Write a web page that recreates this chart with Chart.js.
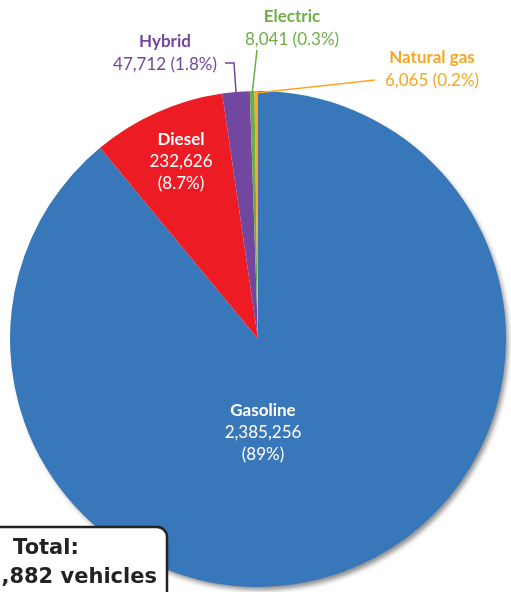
<!DOCTYPE html>
<html>
<head>
<meta charset="utf-8">
<script src="https://cdn.jsdelivr.net/npm/chart.js@4.4.1/dist/chart.umd.min.js"></script>
<style>
  html, body { margin: 0; padding: 0; background: #fff; }
  #wrap { position: relative; width: 511px; height: 592px; }
</style>
</head>
<body>
<div id="wrap"><canvas id="chart" width="511" height="592"></canvas></div>
<script>
// data
const fuelTypes = ['Gasoline', 'Diesel', 'Hybrid', 'Electric', 'Natural gas'];
const vehicleCounts = [2385256, 232626, 47712, 8041, 6065];
const shareLabels = ['89%', '8.7%', '1.8%', '0.3%', '0.2%'];
const totalLabel = ['Total:', '2,679,882 vehicles'];

const sliceColors = ['#3777BA', '#ED1C24', '#7247A0', '#6EAB45', '#FFA51F'];
const textColors = ['#ffffff', '#ffffff', '#7247A0', '#70AD47', '#F5A623'];

// label anchors, offsets in px from the pie centre
const labelLayout = [
  { dx: 5, dy: 72, inside: true },
  { dx: -77, dy: -199, inside: true },
  { dx: -93, dy: -297, leader: [[-33, -276], [-24, -276]] },
  { dx: 34, dy: -322, leader: [[-1, -289]] },
  { dx: 174, dy: -281, leader: [[117, -259]] },
];

const fmt = (n) => n.toLocaleString('en-US');

const pieShadow = {
  id: 'pieShadow',
  beforeDatasetsDraw(chart) {
    const arc = chart.getDatasetMeta(0).data[0];
    if (!arc) return;
    const { x, y, outerRadius } = arc.getProps(['x', 'y', 'outerRadius'], true);
    const ctx = chart.ctx;
    ctx.save();
    ctx.shadowColor = 'rgba(0,0,0,0.45)';
    ctx.shadowBlur = 5;
    ctx.shadowOffsetX = 3;
    ctx.shadowOffsetY = 4;
    ctx.beginPath();
    ctx.arc(x, y, outerRadius - 1, 0, Math.PI * 2);
    ctx.fillStyle = '#ffffff';
    ctx.fill();
    ctx.restore();
  }
};

const sliceLabels = {
  id: 'sliceLabels',
  afterDatasetsDraw(chart) {
    const ctx = chart.ctx;
    const arcs = chart.getDatasetMeta(0).data;
    const { x: cx, y: cy } = arcs[0].getProps(['x', 'y'], true);
    ctx.save();
    ctx.textAlign = 'center';
    ctx.textBaseline = 'middle';
    arcs.forEach((arc, i) => {
      const lay = labelLayout[i];
      const p = arc.getProps(['startAngle', 'endAngle', 'outerRadius'], true);
      const color = textColors[i];
      const lx = cx + lay.dx, ly = cy + lay.dy;

      if (lay.leader) {
        const mid = (p.startAngle + p.endAngle) / 2;
        ctx.beginPath();
        ctx.moveTo(cx + Math.cos(mid) * (p.outerRadius - 2), cy + Math.sin(mid) * (p.outerRadius - 2));
        for (let k = lay.leader.length - 1; k >= 0; k--) {
          ctx.lineTo(cx + lay.leader[k][0], cy + lay.leader[k][1]);
        }
        ctx.strokeStyle = sliceColors[i];
        ctx.lineWidth = 1.5;
        ctx.stroke();
      }

      ctx.fillStyle = color;
      ctx.font = 'bold 17px Lato';
      ctx.fillText(fuelTypes[i], lx, ly);
      ctx.font = '17px Lato';
      if (lay.inside) {
        ctx.fillText(fmt(vehicleCounts[i]), lx, ly + 22);
        ctx.fillText('(' + shareLabels[i] + ')', lx, ly + 44);
      } else {
        ctx.fillText(fmt(vehicleCounts[i]) + ' (' + shareLabels[i] + ')', lx, ly + 23);
      }
    });
    ctx.restore();
  }
};

const totalBox = {
  id: 'totalBox',
  afterDraw(chart) {
    const ctx = chart.ctx;
    ctx.save();
    ctx.beginPath();
    ctx.roundRect(-76, 527, 243, 90, 10);
    ctx.fillStyle = '#ffffff';
    ctx.fill();
    ctx.lineWidth = 2.5;
    ctx.strokeStyle = '#222222';
    ctx.stroke();
    ctx.fillStyle = '#222222';
    ctx.textAlign = 'center';
    ctx.textBaseline = 'middle';
    ctx.font = 'bold 21px "DejaVu Sans"';
    ctx.fillText(totalLabel[0], 46, 549);
    ctx.fillText(totalLabel[1], 46, 578);
    ctx.restore();
  }
};

new Chart(document.getElementById('chart').getContext('2d'), {
  type: 'pie',
  data: {
    labels: fuelTypes,
    datasets: [{
      data: vehicleCounts,
      backgroundColor: sliceColors,
      borderWidth: 0,
    }],
  },
  options: {
    responsive: false,
    animation: false,
    layout: { padding: { left: 10, right: 5, top: 91, bottom: 5 } },
    plugins: {
      legend: { display: false },
      tooltip: { enabled: false },
    },
  },
  plugins: [pieShadow, sliceLabels, totalBox],
});
</script>
</body>
</html>
